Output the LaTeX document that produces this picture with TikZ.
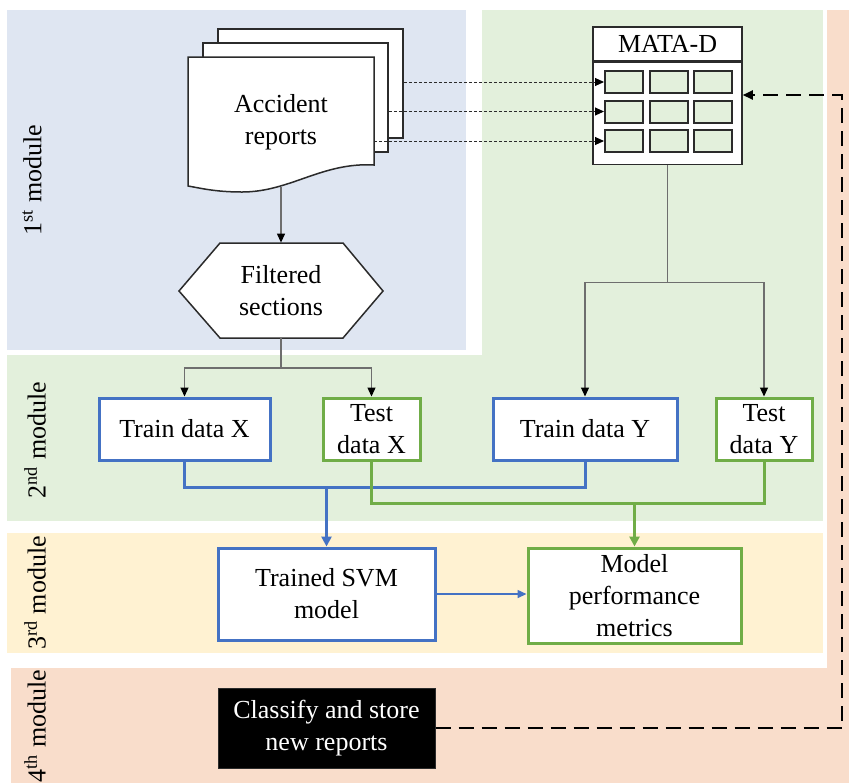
\documentclass[tikz,border=0pt]{standalone}
\usepackage{fontspec}
\setmainfont{Liberation Serif}
\usetikzlibrary{arrows.meta,calc,positioning}

\definecolor{modblue}{HTML}{DFE6F2}
\definecolor{modgreen}{HTML}{E3F0DC}
\definecolor{modyellow}{HTML}{FFF2D2}
\definecolor{modorange}{HTML}{F9DDCB}
\definecolor{boxblue}{HTML}{4472C4}
\definecolor{boxgreen}{HTML}{70AD47}
\definecolor{linegray}{HTML}{6E6E6E}
\definecolor{edgegray}{HTML}{2B2B2B}

\tikzset{
  txt/.style={font=\fontsize{13}{16}\selectfont, align=center, inner sep=0pt},
  box/.style={txt, draw, fill=white, line width=1.5pt},
  bluebox/.style={box, draw=boxblue},
  greenbox/.style={box, draw=boxgreen},
  blackbox/.style={txt, fill=black, text=white, draw=edgegray, line width=0.5pt},
  docshape/.style={draw=edgegray, fill=white, line width=0.75pt},
  tablebox/.style={txt, draw=edgegray, fill=white, line width=0.75pt, minimum width=74.5pt},
  cell/.style={draw=edgegray, fill=modgreen, line width=1pt, minimum width=19pt, minimum height=11pt, inner sep=0pt},
  modlabel/.style={txt, rotate=90},
  gline/.style={draw=linegray, line width=0.6pt},
  conn/.style={gline, -{Triangle[color=black, length=4.5pt, width=4pt]}},
  dotarr/.style={draw=edgegray, line width=0.5pt, dash pattern=on 1.5pt off 1pt, -{Triangle[color=black, length=4.5pt, width=4pt]}},
  blueln/.style={draw=boxblue, line width=1.5pt},
  greenln/.style={draw=boxgreen, line width=1.5pt},
  dasharr/.style={draw=black, line width=1pt, dash pattern=on 7.5pt off 4pt, -{Triangle[length=5pt, width=4.5pt]}}
}

\begin{document}
\begin{tikzpicture}[x=0.5pt, y=-0.5pt]
  \useasboundingbox (0,0) rectangle (849,783);

  % Module backgrounds
  \fill[modblue] (7,10) rectangle (466,350);
  \fill[modgreen] (482,10) rectangle (823,355);
  \fill[modgreen] (7,355) rectangle (823,521);
  \fill[modyellow] (7,533) rectangle (823,653);
  \fill[modorange] (827,10) rectangle (849,783);
  \fill[modorange] (11,668) rectangle (849,783);

  % Module labels
  \node[modlabel] (lab1) at (32,180) {1\textsuperscript{st} module};
  \node[modlabel] (lab2) at (35,440) {2\textsuperscript{nd} module};
  \node[modlabel] (lab3) at (35,593) {3\textsuperscript{rd} module};
  \node[modlabel] (lab4) at (35,726) {4\textsuperscript{th} module};

  % Stack of reports
  \node[docshape, minimum width=92.5pt, minimum height=54.5pt] (doc3) at (310.5,83.5) {};
  \node[docshape, minimum width=92.5pt, minimum height=54.5pt] (doc2) at (295.5,97.5) {};
  \draw[docshape] (188,57) -- (374,57) -- (374,165)
    .. controls (322,162) and (290,192) .. (242,192)
    .. controls (215,192) and (200,188) .. (188,186) -- cycle;
  \node[txt, minimum width=93pt, minimum height=65pt] (acc) at (281,122) {Accident\\reports};
  \coordinate (accbot) at (281,187);

  % Filtered sections
  \draw[docshape] (179,291) -- (220,243) -- (343,243) -- (383,291) -- (343,338) -- (220,338) -- cycle;
  \node[txt, minimum width=102pt, minimum height=47.5pt] (filt) at (281,290.5) {Filtered\\sections};

  % MATA-D table
  \node[tablebox, minimum height=17pt] (mata) at (667.5,44) {MATA-D};
  \node[tablebox, minimum height=51pt, below=0pt of mata] (tbl) {};
  \foreach \r/\yy in {1/82, 2/111.5, 3/141}
    \foreach \c/\xx in {1/624, 2/668.5, 3/713}
      \node[cell] (cell-\r-\c) at (\xx,\yy) {};

  % Data sets
  \node[bluebox, minimum width=85.5pt, minimum height=31pt] (trx) at (184.5,429) {Train data X};
  \node[greenbox, minimum width=48.5pt, minimum height=31pt] (tex) at (371.5,429) {Test\\data X};
  \node[bluebox, minimum width=92pt, minimum height=31pt] (try) at (585,429) {Train data Y};
  \node[greenbox, minimum width=48pt, minimum height=31pt] (tey) at (764,429) {Test\\data Y};

  % Model and metrics
  \node[bluebox, minimum width=108.5pt, minimum height=46pt] (svm) at (326.5,594) {Trained SVM\\model};
  \node[greenbox, minimum width=106.5pt, minimum height=47.5pt] (perf) at (634.5,595.5) {Model\\performance\\metrics};
  \node[blackbox, minimum width=108.5pt, minimum height=40pt] (cls) at (326.5,728) {Classify and store\\new reports};

  % Reports into table
  \draw[dotarr] (cell-1-1.west -| doc3.east) -- (cell-1-1.west);
  \draw[dotarr] (cell-2-1.west -| doc2.east) -- (cell-2-1.west);
  \draw[dotarr] (cell-3-1.west -| acc.east) -- (cell-3-1.west);

  % Splits
  \draw[conn] (accbot) -- (filt.north);
  \coordinate (fsplit) at (281,368);
  \draw[gline] (filt.south) -- (fsplit);
  \draw[conn] (fsplit) -| (trx.north);
  \draw[conn] (fsplit) -| (tex.north);
  \coordinate (msplit) at ($(tbl.south)+(0,117)$);
  \draw[gline] (tbl.south) -- (msplit);
  \draw[conn] (msplit) -| (try.north);
  \draw[conn] (msplit) -| (tey.north);

  % Training and testing
  \coordinate (bjoin) at (326.5,487);
  \coordinate (gjoin) at (634.5,503);
  \draw[blueln] (trx.south) |- (bjoin) -| (try.south);
  \draw[greenln] (tex.south) |- (gjoin) -| (tey.south);
  \draw[blueln, -{Triangle[length=5pt, width=5pt]}] (bjoin) -- (svm.north);
  \draw[greenln, -{Triangle[length=5pt, width=5pt]}] (gjoin) -- (perf.north);
  \draw[draw=boxblue, line width=0.75pt, -{Triangle[length=4.5pt, width=4pt]}] (svm.east) -- (svm.east -| perf.west);

  % Feedback to table
  \coordinate (dcorner) at (842,95);
  \draw[dasharr] (cls.east) -| (dcorner) -- (dcorner -| tbl.east);
\end{tikzpicture}
\end{document}
